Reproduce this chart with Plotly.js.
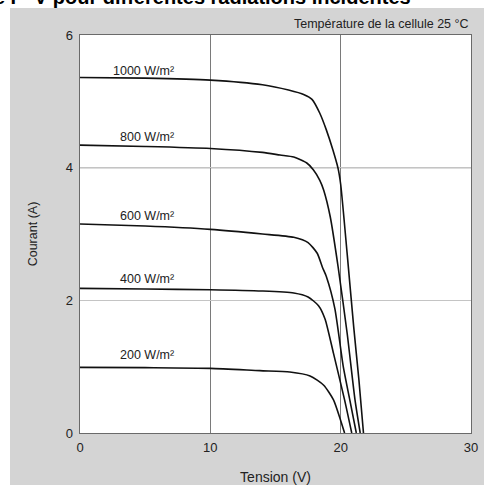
<!DOCTYPE html>
<html>
<head>
<meta charset="utf-8">
<script src="https://cdn.plot.ly/plotly-3.0.1.min.js"></script>
<style>html,body{margin:0;padding:0;background:#fff;}#chart{width:484px;height:485px;}</style>
</head>
<body>
<div id="chart"></div>
<script>
// Series: voltage (V) and current (A)
var v1000 = [0, 5, 10, 14, 16, 17.2, 17.8, 18.4, 18.9, 19.4, 19.8, 20.0, 20.5, 21.0, 21.4, 21.75];
var i1000 = [5.36, 5.35, 5.32, 5.25, 5.17, 5.1, 5.03, 4.82, 4.57, 4.27, 3.99, 3.75, 2.7, 1.6, 0.8, 0];
var v800 = [0, 5, 10, 14, 15.35, 16.4, 17.4, 17.9, 18.4, 18.7, 19.2, 19.8, 20.5, 21.1, 21.5];
var i800 = [4.34, 4.32, 4.29, 4.23, 4.19, 4.16, 4.07, 3.97, 3.81, 3.66, 3.26, 2.51, 1.5, 0.5, 0];
var v600 = [0, 5, 10, 14, 16.4, 17.5, 18.2, 18.6, 18.9, 19.55, 20.2, 20.7, 21.2];
var i600 = [3.15, 3.12, 3.07, 3.0, 2.95, 2.87, 2.71, 2.5, 2.36, 1.88, 1.0, 0.5, 0];
var v400 = [0, 5, 10, 14, 16.4, 17.5, 18.3, 18.8, 19.45, 20.3, 20.85];
var i400 = [2.18, 2.17, 2.16, 2.14, 2.11, 2.05, 1.92, 1.72, 1.2, 0.5, 0];
var v200 = [0, 5, 10, 13.8, 16.1, 17.65, 18.7, 19.45, 19.95, 20.3];
var i200 = [0.99, 0.985, 0.975, 0.94, 0.92, 0.86, 0.72, 0.5, 0.22, 0];

var curveLabels = ["1000 W/m²", "800 W/m²", "600 W/m²", "400 W/m²", "200 W/m²"];
var labelY = [5.46, 4.46, 3.27, 2.32, 1.18];
var labelX = 7.4;

var xTicks = [0, 10, 20, 30];
var yTicks = [0, 2, 4, 6];
var darkGridY = [4];

var series = [[v1000, i1000], [v800, i800], [v600, i600], [v400, i400], [v200, i200]];

var font = "Liberation Sans, Arial, Helvetica, sans-serif";
var txt = "#222";

var traces = series.map(function (s, k) {
  return {
    x: s[0], y: s[1], type: "scatter", mode: "lines",
    name: curveLabels[k], showlegend: false, hoverinfo: "skip",
    line: {color: "#111", width: 1.6, shape: "spline", smoothing: 0.6}
  };
});

var annotations = curveLabels.map(function (t, k) {
  return {x: labelX, y: labelY[k], xref: "x", yref: "y", text: t, showarrow: false,
    xanchor: "right", yanchor: "middle", font: {family: font, size: 12.5, color: txt}};
});
annotations.push({x: 1, y: 1, xref: "paper", yref: "paper", xanchor: "right", yanchor: "bottom",
  yshift: 2, text: "Température de la cellule 25 °C", showarrow: false,
  font: {family: font, size: 12.5, color: txt}});
annotations.push({x: -0.376, y: 1.062, xref: "paper", yref: "paper", xanchor: "left", yanchor: "bottom",
  text: "<b>Courbe I - V pour différentes radiations incidentes</b>", showarrow: false,
  font: {family: font, size: 20, color: "#000"}});

var shapes = [
  {type: "rect", xref: "paper", yref: "paper", x0: -0.3, x1: 1.2, y0: 1.068, y1: 1.2,
    fillcolor: "#fff", line: {width: 0}, layer: "below"},
  {type: "rect", xref: "paper", yref: "paper", x0: -0.3, x1: -0.179, y0: -0.2, y1: 1.2,
    fillcolor: "#fff", line: {width: 0}, layer: "below"}
];
darkGridY.forEach(function (g) {
  shapes.push({type: "line", xref: "paper", yref: "y", x0: 0, x1: 1, y0: g, y1: g,
    line: {color: "#7a7a7a", width: 1.1}, layer: "below"});
});

var layout = {
  width: 484, height: 485,
  margin: {l: 80, r: 13, t: 35, b: 52},
  paper_bgcolor: "#d4d4d4",
  plot_bgcolor: "#ffffff",
  showlegend: false,
  font: {family: font, color: txt},
  xaxis: {
    range: [0, 30], tickvals: xTicks, ticks: "", showgrid: true, gridcolor: "#7a7a7a", gridwidth: 1.1,
    zeroline: false, showline: true, mirror: true, linecolor: "#6a6a6a", linewidth: 1.3,
    tickfont: {family: font, size: 13, color: txt}, ticklabelstandoff: 2,
    title: {text: "Tension (V)", font: {family: font, size: 14, color: txt}, standoff: 23}
  },
  yaxis: {
    range: [0, 6], tickvals: yTicks, ticks: "", showgrid: true, gridcolor: "#c4c4c4", gridwidth: 1,
    zeroline: false, showline: true, mirror: true, linecolor: "#6a6a6a", linewidth: 1.3,
    tickfont: {family: font, size: 13, color: txt}, ticklabelstandoff: 3,
    title: {text: "Courant (A)", font: {family: font, size: 12.5, color: txt}, standoff: 25}
  },
  annotations: annotations,
  shapes: shapes
};

Plotly.newPlot("chart", traces, layout, {staticPlot: true, displayModeBar: false});
</script>
</body>
</html>
